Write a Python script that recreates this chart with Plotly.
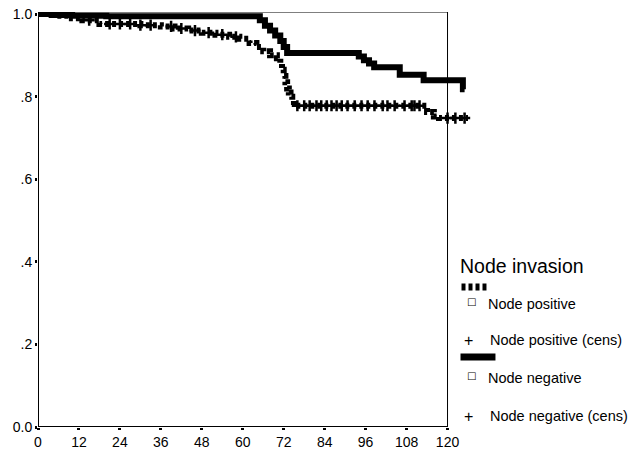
import plotly.graph_objects as go

# Kaplan-Meier step curves (months, cumulative survival)
neg_time = [0, 4, 10, 20, 65, 66.5, 68, 69.5, 71, 72, 73, 94, 95.5, 97, 98.5, 106, 113, 124.5, 125]
neg_surv = [1.0, 0.998, 0.996, 0.995, 0.985, 0.972, 0.96, 0.948, 0.935, 0.92, 0.906, 0.897, 0.888,
            0.880, 0.871, 0.853, 0.840, 0.818, 0.818]

pos_time = [0, 5, 9, 13, 18, 30, 36, 40, 44, 48, 52, 56, 59, 62, 64, 66, 68, 70, 71, 71.5, 72,
            72.5, 73, 73.5, 74, 74.5, 75, 114, 116, 117.5, 126]
pos_surv = [1.0, 0.996, 0.99, 0.985, 0.976, 0.973, 0.970, 0.965, 0.960, 0.955, 0.950, 0.945,
            0.940, 0.930, 0.920, 0.910, 0.900, 0.893, 0.880, 0.865, 0.850, 0.835, 0.820, 0.810,
            0.800, 0.790, 0.778, 0.763, 0.752, 0.748, 0.748]

# censored observations, node positive
pos_cens_time = [15, 21, 24, 27, 30, 33, 39, 42, 46, 50, 54, 58, 76, 78, 79.6, 81.6, 83, 84.6, 86,
                 87.5, 89, 90.7, 92.8, 94.8, 96.6, 98.6, 101, 102.4, 104.5, 107.4, 109.5, 110.3,
                 111.8, 120, 122.3, 125]

x_ticks = [0, 12, 24, 36, 48, 60, 72, 84, 96, 108, 120]
y_ticks = [0, 0.2, 0.4, 0.6, 0.8, 1.0]
y_tick_text = ["0.0", ".2", ".4", ".6", ".8", "1.0"]

legend_title = "Node invasion"
legend_labels = ["Node positive", "Node positive (cens)", "Node negative", "Node negative (cens)"]


def step_value(times, surv, t):
    v = surv[0]
    for ti, si in zip(times, surv):
        if ti <= t:
            v = si
    return v


pos_cens_surv = [step_value(pos_time, pos_surv, t) for t in pos_cens_time]

W, H = 640, 450
L, R, T, B = 38, 640 - 468.5, 12, 23
X_MAX = 126.0
Y_MAX = 1.005


def px(x):
    return (x - L) / (W - L - R)


def py(y):
    return 1 - (y - T) / (H - T - B)


FONT = "Liberation Sans, Arial, sans-serif"

fig = go.Figure()

fig.add_trace(go.Scatter(
    x=neg_time, y=neg_surv, mode="lines", line=dict(shape="hv", color="black", width=6),
    showlegend=False, hoverinfo="skip"))

fig.add_trace(go.Scatter(
    x=pos_time, y=pos_surv, mode="lines",
    line=dict(shape="hv", color="black", width=6, dash="4px,3px"),
    showlegend=False, hoverinfo="skip"))

fig.add_trace(go.Scatter(
    x=pos_cens_time, y=pos_cens_surv, mode="markers",
    marker=dict(symbol="cross-thin", size=8, line=dict(width=2.5, color="black")),
    showlegend=False, hoverinfo="skip", cliponaxis=False))

# frame of the plot region
fig.add_shape(type="line", x0=0, x1=0, y0=0, y1=Y_MAX, line=dict(color="black", width=2))
fig.add_shape(type="line", x0=0, x1=120, y0=0, y1=0, line=dict(color="black", width=2))
fig.add_shape(type="line", x0=120, x1=120, y0=0, y1=Y_MAX, line=dict(color="black", width=1))
fig.add_shape(type="line", x0=0, x1=120, y0=Y_MAX, y1=Y_MAX, line=dict(color="black", width=1))

# legend block
fig.add_annotation(text=legend_title, xref="paper", yref="paper", x=px(458), y=py(266),
                   xanchor="left", yanchor="middle", showarrow=False,
                   font=dict(family=FONT, size=19.5, color="black"))
fig.add_shape(type="line", xref="paper", yref="paper", x0=px(462), x1=px(487), y0=py(287), y1=py(287),
              line=dict(color="black", width=7, dash="4px,3px"))
fig.add_shape(type="line", xref="paper", yref="paper", x0=px(461), x1=px(496), y0=py(357), y1=py(357),
              line=dict(color="black", width=7))

rows = [(304, 340), (378, 416)]
for i, (ys, yc) in enumerate(rows):
    fig.add_annotation(text="\u25a1", xref="paper", yref="paper", x=px(472), y=py(ys - 3),
                       xanchor="center", yanchor="middle", showarrow=False,
                       font=dict(family="DejaVu Sans", size=10, color="black"))
    fig.add_annotation(text=legend_labels[2 * i], xref="paper", yref="paper", x=px(487), y=py(ys),
                       xanchor="left", yanchor="middle", showarrow=False,
                       font=dict(family=FONT, size=14.5, color="black"))
    fig.add_annotation(text="+", xref="paper", yref="paper", x=px(469), y=py(yc),
                       xanchor="center", yanchor="middle", showarrow=False,
                       font=dict(family=FONT, size=16, color="black"))
    fig.add_annotation(text=legend_labels[2 * i + 1], xref="paper", yref="paper", x=px(489), y=py(yc),
                       xanchor="left", yanchor="middle", showarrow=False,
                       font=dict(family=FONT, size=14.5, color="black"))

fig.update_layout(
    width=W, height=H, autosize=False,
    margin=dict(l=L, r=R, t=T, b=B, pad=0),
    plot_bgcolor="white", paper_bgcolor="white",
    font=dict(family=FONT, size=14, color="black"),
    xaxis=dict(range=[0, X_MAX], tickvals=x_ticks, ticktext=[str(v) for v in x_ticks],
               showgrid=False, zeroline=False, showline=False, automargin=False,
               ticks="outside", ticklen=2, tickwidth=3, tickcolor="black",
               tickfont=dict(family=FONT, size=14)),
    yaxis=dict(range=[0, Y_MAX], tickvals=y_ticks, ticktext=y_tick_text,
               showgrid=False, zeroline=False, showline=False, automargin=False,
               ticks="outside", ticklen=2, tickwidth=3, tickcolor="black",
               tickfont=dict(family=FONT, size=14)),
)

fig.write_html("out.html")
